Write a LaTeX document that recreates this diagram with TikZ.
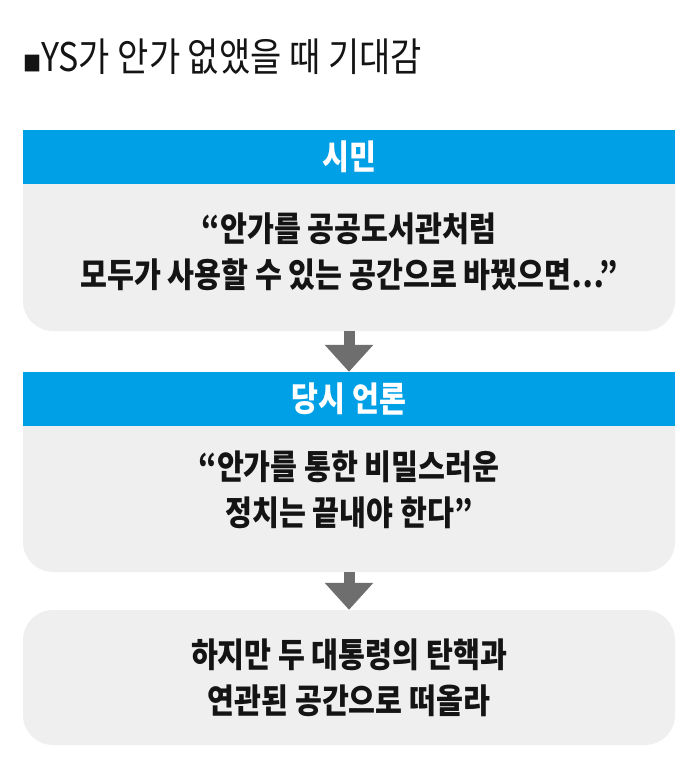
\documentclass[tikz,border=0pt]{standalone}
\usepackage{fontspec}
\usepackage{tikz}
\usetikzlibrary{arrows.meta,positioning}
\setmainfont{Noto Sans CJK KR}[FakeStretch=0.86]
\definecolor{barblue}{RGB}{0,160,230}
\definecolor{panelgrey}{RGB}{239,239,239}
\definecolor{arrowgrey}{RGB}{110,110,110}
\definecolor{inkblack}{RGB}{20,20,20}
\tikzset{
	panel/.style={fill=panelgrey, rounded corners=30pt, minimum width=652pt, inner sep=0pt},
	headbar/.style={fill=barblue, minimum width=652pt, minimum height=54pt, inner sep=0pt, text=white, font=\fontsize{34}{34}\selectfont\bfseries},
	quote/.style={align=center, text=inkblack, inner sep=0pt, font=\fontsize{34}{46}\selectfont\bfseries},
	downarrow/.style={draw=arrowgrey, line width=11pt, -{Triangle[length=27pt 0 0, width=47pt 0 0]}}
}
\begin{document}
\begin{tikzpicture}[x=1pt, y=-1pt]
			%%%%% START %%%%%
			\useasboundingbox[fill=white] (0, 0) rectangle (694, 771);
			
			\node[anchor=west, inner sep=0pt, text=inkblack, font=\fontsize{39.5}{39.5}\selectfont] (title) at (23, 57) {{\fontsize{21}{21}\selectfont ■}YS가 안가 없앴을 때 기대감};
			
			% citizens
			\node[panel, minimum height=201pt] (citizenpanel) at (349, 230.5) {};
			\node[headbar, anchor=north] (citizen) at (citizenpanel.north) {시민};
			\node[quote] (citizentext) at (349, 251.5) {“안가를 공공도서관처럼\\모두가 사용할 수 있는 공간으로 바꿨으면…”};
			
			% press
			\node[panel, minimum height=200pt] (presspanel) at (349, 472) {};
			\node[headbar, anchor=north] (press) at (presspanel.north) {당시 언론};
			\node[quote] (presstext) at (349, 490) {“안가를 통한 비밀스러운\\정치는 끝내야 한다”};
			
			% outcome
			\node[panel, minimum height=135pt, quote] (outcome) at (349, 677.5) {하지만 두 대통령의 탄핵과\\연관된 공간으로 떠올라};
			
			\draw[downarrow] (citizenpanel.south) -- (presspanel.north);
			\draw[downarrow] (presspanel.south) -- (outcome.north);
			%%%%% END %%%%%
\end{tikzpicture}
\end{document}
